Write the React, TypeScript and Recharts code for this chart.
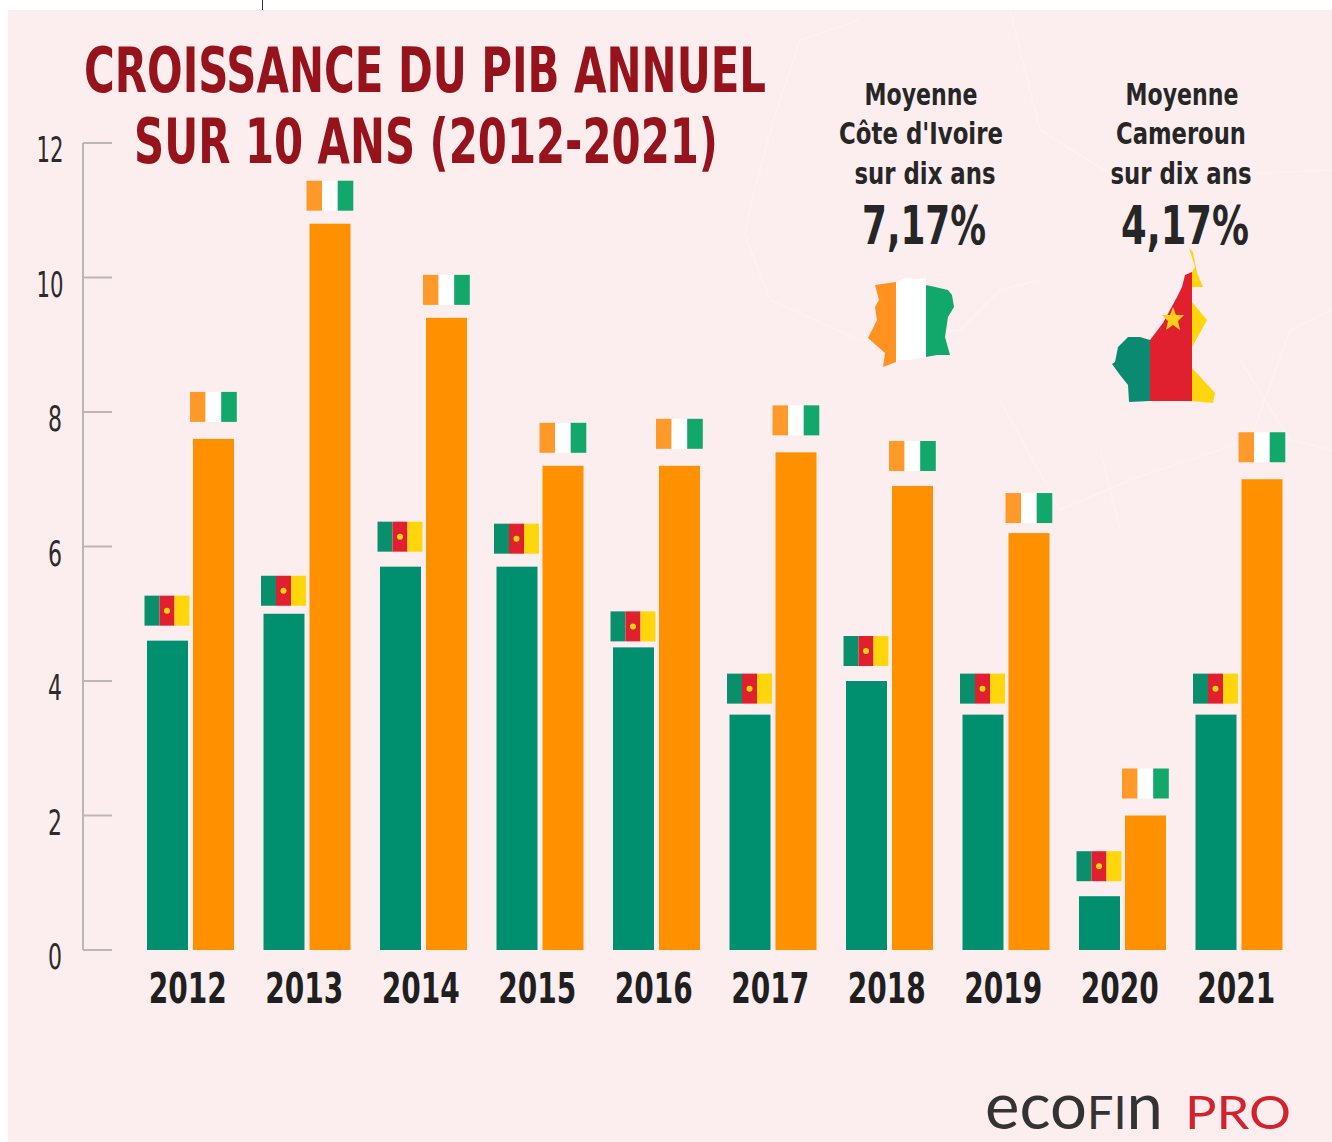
import React from "react";
import { BarChart, Bar, XAxis, YAxis } from "recharts";

const years = ["2012","2013","2014","2015","2016","2017","2018","2019","2020","2021"];
const cameroun = [4.6,5.0,5.7,5.7,4.5,3.5,4.0,3.5,0.8,3.5];
const coteIvoire = [7.6,10.8,9.4,7.2,7.2,7.4,6.9,6.2,2.0,7.0];
const yTicks = [0,2,4,6,8,10,12];
const rows = years.map((year,i)=>({year,cameroun:cameroun[i],coteIvoire:coteIvoire[i]}));

// How far above its bar each flag sits, year by year (layout only).
const camFlagLift = [45,38,45,43,36,41,45,41,45,41];
const ciFlagLift = [47,43,43,43,47,47,45,40,47,47];

const FONT = "'DejaVu Sans Condensed','Liberation Sans',sans-serif";
const GREEN = "#008f6f", ORANGE = "#ff9100", BG = "#fceeee";

const ctx = typeof document !== "undefined" ? document.createElement("canvas").getContext("2d") : null;
const Fit = ({x,y,w,size,weight=700,fill,children}:any) => {
  let sx = 1;
  if (ctx) { ctx.font = `${weight} ${size}px 'DejaVu Sans Condensed'`; sx = w/ctx.measureText(String(children)).width; }
  return <text transform={`translate(${x} ${y}) scale(${sx} 1)`} textAnchor="middle" fontFamily={FONT} fontSize={size} fontWeight={weight} fill={fill}>{children}</text>;
};

const CamBar = (p:any) => {
  const {x,y,width,height,index} = p; const fx = x-2.5, fy = y-camFlagLift[index], w = 15;
  return <g>
    <rect x={x} y={y} width={width} height={height} fill={GREEN}/>
    <rect x={fx} y={fy} width={w} height={30} fill="#0a8f6c"/>
    <rect x={fx+w} y={fy} width={w} height={30} fill="#e0202f"/>
    <rect x={fx+2*w} y={fy} width={w} height={30} fill="#ffd50c"/>
    <circle cx={fx+1.5*w} cy={fy+15} r={3} fill="#ffd50c"/>
  </g>;
};
const CiBar = (p:any) => {
  const {x,y,width,height,index} = p; const fx = x-3, fy = y-ciFlagLift[index], w = 15.6;
  return <g>
    <rect x={x} y={y} width={width} height={height} fill={ORANGE}/>
    <rect x={fx} y={fy} width={w} height={30} fill="#ff9a2a"/>
    <rect x={fx+w} y={fy} width={w} height={30} fill="#ffffff"/>
    <rect x={fx+2*w} y={fy} width={w} height={30} fill="#12a86b"/>
  </g>;
};
const YTick = (p:any) => {
  const {x,y,payload} = p; const s = String(payload.value);
  return <g>
    <line x1={x} x2={x+29} y1={y} y2={y} stroke="#bdb6b6" strokeWidth={2}/>
    <Fit x={x-(s.length>1?33:28)} y={y+19} w={s.length>1?27:14} size={36} weight={400} fill="#2b2b2b">{s}</Fit>
  </g>;
};
const XTick = (p:any) => {
  const {x,y,payload} = p;
  return <Fit x={x-2.5} y={y+53} w={78} size={43} fill="#1f1f1f">{payload.value}</Fit>;
};

export default function App(){
  return <div style={{position:"absolute",left:0,top:0,width:1332,height:1142,background:"#fff",overflow:"hidden"}}>
    <div style={{position:"absolute",left:8,top:10,width:1324,height:1132,background:BG}}/>
    <div style={{position:"absolute",left:262,top:0,width:1,height:10,background:"#333"}}/>
    <svg width={1332} height={1142} style={{position:"absolute",left:0,top:0}}>
      <g fill="none" stroke="#fdf1f1" strokeWidth={1.5}>
        <path d="M745 235 L752 200 L775 115 L800 40 L860 20 M745 235 L770 300 L860 340 L960 330 L1000 290 L1040 280 M1010 10 L1040 130 L1120 180 L1332 170 M1000 400 L1060 510 L1130 480 L1250 440 L1290 330 L1332 310 M1100 450 L1120 530 M1240 360 L1290 440 L1332 450"/>
      </g>
    </svg>
    <div style={{position:"absolute",left:0,top:0}}>
      <BarChart width={1332} height={1142} data={rows} margin={{top:143,right:35,bottom:132,left:13}} barSize={41} barGap={5} barCategoryGap={0}>
        <YAxis width={70} domain={[0,12]} ticks={yTicks} interval={0} axisLine={{stroke:"#bdb6b6",strokeWidth:2}} tickLine={false} tickSize={0} tickMargin={0} tick={<YTick/>}/>
        <XAxis dataKey="year" axisLine={false} tickLine={false} tickSize={0} tickMargin={0} height={60} interval={0} tick={<XTick/>} padding={{left:49,right:0}}/>
        <Bar dataKey="cameroun" isAnimationActive={false} shape={<CamBar/>}/>
        <Bar dataKey="coteIvoire" isAnimationActive={false} shape={<CiBar/>}/>
      </BarChart>
    </div>
    <svg width={1332} height={1142} style={{position:"absolute",left:0,top:0}}>
      <Fit x={425} y={92} size={62} w={682} fill="#97131b">CROISSANCE DU PIB ANNUEL</Fit>
      <Fit x={426} y={163} size={62} w={584} fill="#97131b">SUR 10 ANS (2012-2021)</Fit>
      <Fit x={921} y={105} size={30} w={113} fill="#262626">Moyenne</Fit>
      <Fit x={921} y={144} size={30} w={164} fill="#262626">Côte d'Ivoire</Fit>
      <Fit x={925} y={184} size={30} w={141} fill="#262626">sur dix ans</Fit>
      <Fit x={924} y={244} size={54} w={124} fill="#262626">7,17%</Fit>
      <Fit x={1182} y={105} size={30} w={113} fill="#262626">Moyenne</Fit>
      <Fit x={1181} y={144} size={30} w={130} fill="#262626">Cameroun</Fit>
      <Fit x={1181} y={184} size={30} w={141} fill="#262626">sur dix ans</Fit>
      <Fit x={1185} y={244} size={54} w={128} fill="#262626">4,17%</Fit>
      <path d="M875 285 L896 282 L896 362 L883 367 L885 353 L868 338 L877 320 L875 307 L879 300Z" fill="#ff9220"/>
      <path d="M896 282 L905 278 L917 279 L926 278 L926 357 L910 360 L896 360Z" fill="#fff"/>
      <path d="M926 285 L935 287 L948 290 L952 295 L954 307 L948 317 L945 337 L950 355 L937 355 L926 357Z" fill="#12a86b"/>
      <path d="M1150 340 L1140 337 L1128 337 L1118 347 L1115 362 L1112 364 L1120 375 L1128 385 L1129 402 L1150 401Z" fill="#0a8a70"/>
      <path d="M1150 340 L1163 323 L1177 297 L1182 287 L1185 275 L1192 272 L1192 401 L1150 401Z" fill="#e0202f"/>
      <path d="M1192 302 L1207 320 L1192 347Z M1192 368 L1215 393 L1213 403 L1192 401Z M1189 248 L1193 252 L1197 273 L1203 287 L1192 287 L1192 272 L1195 267Z" fill="#ffd50c"/>
      <path d="M1173 307 L1176 315 L1184 315 L1178 321 L1180 330 L1173 325 L1166 330 L1168 321 L1162 315 L1170 315Z" fill="#ffcf1a"/>
      <text x={985} y={1129} fontFamily="Lato,'Liberation Sans',sans-serif" fontWeight={400} fill="#333" textLength={178} lengthAdjust="spacingAndGlyphs"><tspan fontSize={64}>eco</tspan><tspan fontSize={46}>FI</tspan><tspan fontSize={64}>n</tspan></text>
      <text x={1185} y={1129} fontFamily="Lato,'Liberation Sans',sans-serif" fontWeight={400} fontSize={46} fill="#d2222e" textLength={106} lengthAdjust="spacingAndGlyphs">PRO</text>
    </svg>
  </div>;
}
